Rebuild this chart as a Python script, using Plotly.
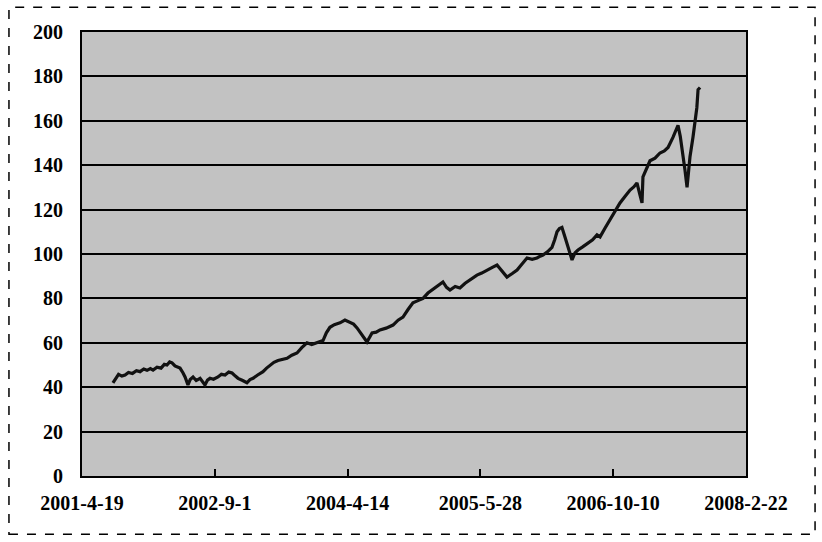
import plotly.graph_objects as go

# Tick labels on the category-style x axis (positions 0..5)
tick_labels = ["2001-4-19", "2002-9-1", "2004-4-14", "2005-5-28", "2006-10-10", "2008-2-22"]
tick_positions = [0, 1, 2, 3, 4, 5]

# Series: position along the x axis (in label intervals) and value
x_pos = [0.233, 0.255, 0.275, 0.300, 0.324, 0.350, 0.380, 0.410, 0.437, 0.465,
         0.490, 0.515, 0.535, 0.565, 0.595, 0.620, 0.640, 0.660, 0.678, 0.700,
         0.720, 0.738, 0.760, 0.776, 0.798, 0.815, 0.836, 0.860, 0.889, 0.905,
         0.926, 0.945, 0.964, 0.990, 1.024, 1.050, 1.077, 1.105, 1.130, 1.155,
         1.175, 1.210, 1.242, 1.265, 1.288, 1.320, 1.363, 1.390, 1.416, 1.445,
         1.476, 1.510, 1.544, 1.580, 1.619, 1.655, 1.694, 1.730, 1.770, 1.795,
         1.815, 1.840, 1.867, 1.900, 1.943, 1.980, 2.018, 2.045, 2.071, 2.095,
         2.116, 2.146, 2.165, 2.184, 2.215, 2.244, 2.290, 2.342, 2.380, 2.417,
         2.455, 2.492, 2.530, 2.568, 2.605, 2.643, 2.680, 2.718, 2.745, 2.771,
         2.810, 2.846, 2.885, 2.922, 2.950, 2.974, 3.010, 3.050, 3.090, 3.125,
         3.165, 3.200, 3.240, 3.276, 3.315, 3.351, 3.390, 3.426, 3.450, 3.471,
         3.505, 3.539, 3.560, 3.577, 3.595, 3.614, 3.635, 3.652, 3.672, 3.690,
         3.712, 3.735, 3.770, 3.810, 3.845, 3.878, 3.901, 3.940, 3.976, 4.015,
         4.051, 4.090, 4.127, 4.155, 4.179, 4.200, 4.217, 4.224, 4.250, 4.277,
         4.315, 4.352, 4.385, 4.413, 4.450, 4.488, 4.505, 4.518, 4.540, 4.556,
         4.578, 4.601, 4.616, 4.630, 4.639, 4.654]
values = [42, 44.2, 45.8, 45.0, 45.5, 46.6, 46.2, 47.4, 47, 48.2,
          47.6, 48.4, 47.7, 49.0, 48.6, 50.3, 50, 51.4, 51, 49.6,
          49.2, 48.6, 46.5, 44.6, 41, 43.5, 44.6, 43.0, 44, 42.8,
          41, 43.2, 44, 43.6, 44.6, 45.8, 45.5, 46.8, 46.4, 45.0,
          44, 43.0, 42, 43.4, 44, 45.4, 47, 48.6, 50, 51.2,
          52, 52.6, 53, 54.4, 55.4, 57.8, 60, 59.2, 60, 60.8,
          61, 64.5, 67, 68.2, 69, 70.2, 69, 68.4, 66.7, 64.8,
          62.6, 60.4, 62.4, 64.4, 64.8, 65.8, 66.6, 68, 70.2, 71.6,
          75.0, 78, 79.0, 80, 82.4, 84, 85.6, 87.4, 85.0, 83.8,
          85.4, 84.7, 86.8, 88.3, 89.6, 90.5, 91.4, 92.8, 94.0, 95,
          92.0, 89.6, 91.2, 92.8, 95.6, 98.2, 97.6, 98.2, 99.0, 99.5,
          101.0, 103, 106.5, 110, 111.5, 112, 108.0, 105, 101.0, 97.3,
          100.5, 101.8, 103.2, 105, 106.4, 108.6, 107.7, 111.8, 115.3, 119.2,
          123, 126.0, 128.8, 130.2, 132, 127.0, 123, 134.7, 138.0, 142,
          143.2, 145.5, 146.4, 148, 152.5, 158, 153.0, 148, 138.0, 130,
          143.7, 152.7, 160, 166.0, 174, 175]

y_ticks = list(range(0, 201, 20))

font_family = "Liberation Serif, DejaVu Serif, serif"

fig = go.Figure()
fig.add_trace(go.Scatter(x=x_pos, y=values, mode="lines",
                         line=dict(color="#111111", width=3.2),
                         showlegend=False, hoverinfo="skip"))

fig.update_layout(
    width=822, height=542,
    margin=dict(l=82, r=76, t=32, b=66),
    paper_bgcolor="white",
    plot_bgcolor="#c2c2c2",
    font=dict(family=font_family, size=20, color="black"),
    shapes=[dict(type="rect", xref="paper", yref="paper",
                 x0=-0.110, x1=1.104, y0=-0.131, y1=1.056,
                 line=dict(color="black", width=1.5, dash="dash"),
                 fillcolor="rgba(0,0,0,0)", layer="below")],
)
fig.update_xaxes(range=[0, 5], tickvals=tick_positions, ticktext=tick_labels,
                 showgrid=False, zeroline=False, showline=True, linecolor="black",
                 linewidth=2, mirror=True, ticks="inside", ticklen=7, tickwidth=1.5,
                 tickcolor="black", ticklabelstandoff=8,
                 tickfont=dict(family=font_family, size=20, color="black", weight="bold"))
fig.update_yaxes(range=[0, 200], tickvals=y_ticks, showgrid=True, gridcolor="black",
                 gridwidth=2, zeroline=False, showline=True, linecolor="black",
                 linewidth=2, mirror=True, ticks="", ticklabelstandoff=13,
                 tickfont=dict(family=font_family, size=20, color="black", weight="bold"))

fig.write_html("out.html")
